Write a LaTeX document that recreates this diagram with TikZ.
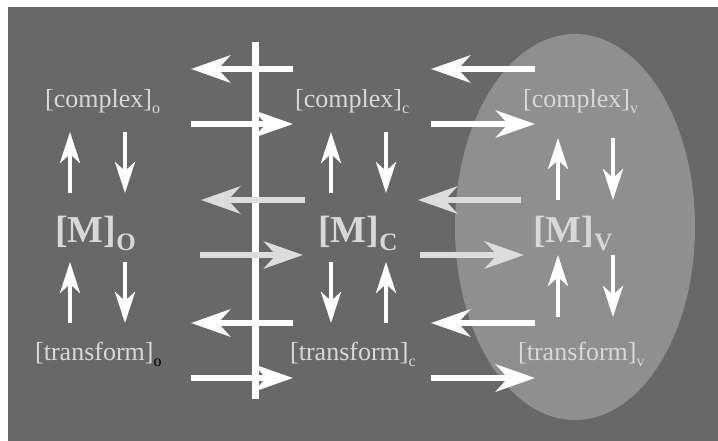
\documentclass[tikz,border=0pt]{standalone}
\usepackage{fontspec}
\setmainfont{Liberation Serif}
\usetikzlibrary{arrows.meta}

\definecolor{bgdark}{HTML}{686868}
\definecolor{ovalgray}{HTML}{8F8F8F}
\definecolor{txtgray}{HTML}{D8D8D8}
\definecolor{arrgray}{HTML}{DCDCDC}

\newcommand{\smallsub}[1]{\raisebox{-6pt}{\fontsize{16}{16}\selectfont #1}}
\newcommand{\bigsub}[1]{\raisebox{-8pt}{\fontsize{25}{25}\selectfont\bfseries #1}}

\tikzset{
  harrow/.style={line width=6.5pt, -{Stealth[length=39pt,width=27pt,inset=12pt]}},
  varrow/.style={line width=4.5pt, draw=white, -{Stealth[length=31pt,width=20pt,inset=9pt]}},
  species/.style={anchor=base west, inner sep=0pt, text=txtgray, font=\fontsize{26}{26}\selectfont},
  matrixlbl/.style={anchor=base west, inner sep=0pt, text=txtgray, font=\fontsize{38}{38}\selectfont\bfseries}
}

\begin{document}
\begin{tikzpicture}[x=1pt,y=-1pt]

\useasboundingbox (0,0) rectangle (718,441);

%BACKGROUND
\fill [bgdark] (8,7) rectangle (718,441);
\fill [ovalgray] (575,227) ellipse [x radius=120pt, y radius=193pt];

%Dividing line
\draw [white, line width=7pt] (255,42) -- (255,399);

%Horizontal Arrows
%white, left and right pointing
\foreach \y in {69,323}
{
\draw [harrow, draw=white] (293,\y) -- (191,\y);
\draw [harrow, draw=white] (535,\y) -- (431,\y);
}
\foreach \y in {124,378}
{
\draw [harrow, draw=white] (191,\y) -- (293,\y);
\draw [harrow, draw=white] (431,\y) -- (535,\y);
}
%gray, middle row
\draw [harrow, draw=arrgray] (305,200) -- (201,200);
\draw [harrow, draw=arrgray] (521,200) -- (418,200);
\draw [harrow, draw=arrgray] (200,255) -- (303,255);
\draw [harrow, draw=arrgray] (420,255) -- (524,255);

%Vertical Arrows
%Upper row
\foreach \xu/\xd/\a/\b in {70/125/193/132,331/386/193/132,558/613/200/138}
{
\draw [varrow] (\xu,\a) -- (\xu,\b);
\draw [varrow] (\xd,\b) -- (\xd,\a);
}
%Lower row
\draw [varrow] (70,323) -- (70,262);
\draw [varrow] (125,262) -- (125,323);
\draw [varrow] (331,262) -- (331,323);
\draw [varrow] (386,323) -- (386,262);
\draw [varrow] (558,317) -- (558,255);
\draw [varrow] (613,255) -- (613,317);

%Labels
\node [species] (co) at (45,108) {[complex]\smallsub{o}};
\node [species] (cc) at (295,108) {[complex]\smallsub{c}};
\node [species] (cv) at (523,108) {[complex]\smallsub{v}};

\node [matrixlbl] (mo) at (55,242) {[M]\bigsub{O}};
\node [matrixlbl] (mc) at (318,242) {[M]\bigsub{C}};
\node [matrixlbl] (mv) at (533,242) {[M]\bigsub{V}};

\node [species] (to) at (35,360) {[transform]\smallsub{\textcolor{black}{o}}};
\node [species] (tc) at (290,360) {[transform]\smallsub{c}};
\node [species] (tv) at (518,360) {[transform]\smallsub{v}};

\end{tikzpicture}
\end{document}
